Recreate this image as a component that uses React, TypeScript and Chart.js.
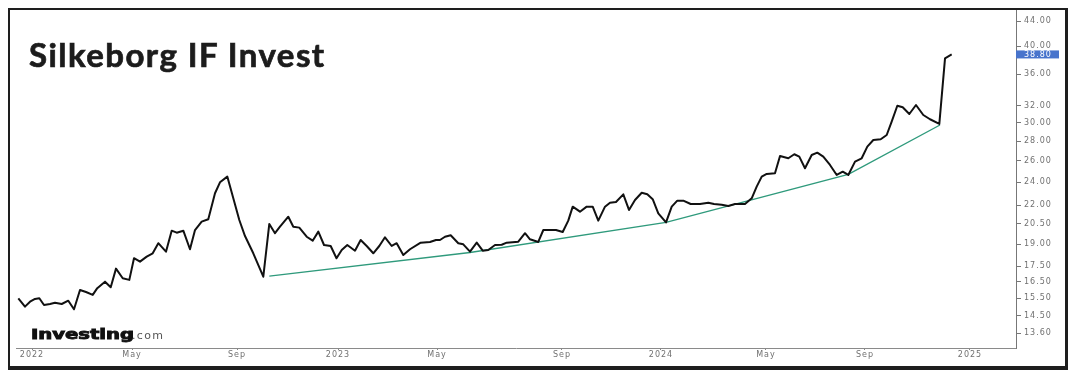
import React, { useEffect, useRef } from "react";
import { Chart, registerables } from "chart.js";

Chart.register(...registerables);

// Weekly closes, x in weeks from the start of 2022 (as laid out on the source chart)
const priceWeeks = [
  -2.28, -1.17, -0.33, 0.5, 1.22, 2.0, 3.0, 3.83, 4.95, 6.05,
  7.0, 8.0, 9.0, 10.12, 10.88, 12.17, 13.12, 14.0, 15.12, 16.22,
  17.0, 18.0, 19.12, 20.12, 21.05, 22.33, 23.28, 24.12, 25.22, 26.33,
  27.17, 28.28, 29.38, 30.5, 31.33, 32.55, 33.55, 34.55, 35.5, 36.88,
  38.55, 39.55, 40.5, 41.33, 42.72, 43.55, 44.55, 45.78, 46.78, 47.72,
  48.67, 49.78, 50.75, 51.62, 52.55, 53.83, 54.78, 55.78, 56.88, 57.88,
  58.83, 59.95, 60.78, 61.88, 63.0, 64.78, 66.33, 67.33, 68.0, 68.83,
  69.78, 71.05, 71.88, 73.0, 74.12, 75.12, 76.05, 77.17, 78.28, 79.12,
  81.05, 82.17, 83.0, 84.38, 85.22, 87.33, 88.45, 89.38, 90.12, 91.33,
  92.45, 93.45, 94.38, 95.5, 96.33, 97.33, 98.55, 99.5, 100.5, 101.62,
  102.55, 103.45, 104.38, 105.67, 106.62, 107.55, 108.55, 109.78, 111.33, 112.72,
  113.67, 114.95, 116.05, 117.17, 118.83, 119.95, 120.78, 121.62, 122.45, 123.83,
  124.67, 126.05, 127.05, 127.88, 128.83, 129.95, 130.88, 131.88, 133.0, 134.12,
  135.12, 136.05, 137.17, 138.28, 139.22, 140.22, 141.45, 142.45, 143.28, 144.22,
  145.12, 146.22, 147.33, 148.55, 149.67, 151.22, 152.17, 153.28,
];

const priceValues = [
  15.5, 15.02, 15.3, 15.46, 15.5, 15.11, 15.17, 15.24, 15.17, 15.36,
  14.87, 15.99, 15.87, 15.7, 16.1, 16.5, 16.16, 17.33, 16.71, 16.61,
  18.02, 17.79, 18.13, 18.36, 19.07, 18.47, 19.99, 19.84, 19.99, 18.64,
  20.04, 20.68, 20.87, 23.01, 23.98, 24.5, 22.58, 20.81, 19.59, 18.36,
  16.81, 20.5, 19.8, 20.29, 21.07, 20.29, 20.22, 19.54, 19.25, 19.92,
  18.94, 18.87, 18.02, 18.59, 18.94, 18.54, 19.3, 18.87, 18.36, 18.87,
  19.5, 18.87, 19.07, 18.24, 18.64, 19.11, 19.16, 19.3, 19.3, 19.54,
  19.65, 19.07, 18.99, 18.47, 19.11, 18.54, 18.59, 18.94, 18.96, 19.11,
  19.18, 19.8, 19.35, 19.16, 20.04, 20.04, 19.89, 20.76, 21.88, 21.47,
  21.88, 21.88, 20.76, 21.88, 22.21, 22.27, 22.92, 21.61, 22.44, 23.06,
  22.92, 22.5, 21.34, 20.62, 21.88, 22.38, 22.38, 22.1, 22.1, 22.21,
  22.1, 22.04, 21.94, 22.1, 22.1, 22.58, 23.59, 24.5, 24.75, 24.81,
  26.48, 26.25, 26.65, 26.41, 25.28, 26.58, 26.81, 26.41, 25.6, 24.65,
  24.96, 24.65, 25.92, 26.25, 27.42, 28.12, 28.2, 28.65, 30.12, 31.99,
  31.8, 31.01, 32.08, 30.89, 30.4, 29.87, 38.24, 38.8,
];

// Green support trend line
const trendWeeks = [39.55, 73.0, 105.67, 136.05, 151.33];
const trendValues = [16.85, 18.41, 20.62, 24.7, 29.75];

// Axis ticks
const xTickWeeks = [0, 16.67, 34.17, 51, 67.5, 88.33, 104.83, 122.33, 138.83, 156.33];
const xTickLabels = ["2022", "May", "Sep", "2023", "May", "Sep", "2024", "May", "Sep", "2025"];
const yTickValues = [13.6, 14.5, 15.5, 16.5, 17.5, 19, 20.5, 22, 24, 26, 28, 30, 32, 36, 40, 44];
const lastPrice = 38.8;

const X_MIN = -2.667;
const X_MAX = 164;
const Y_MIN = 12.855;
const Y_MAX = 45.86;

const TICK_FONT = "DejaVu Sans";

const spacingPlugin = {
  id: "letterSpacing",
  beforeLayout(chart: any) {
    (chart.ctx as any).letterSpacing = "1px";
  },
  beforeDraw(chart: any) {
    (chart.ctx as any).letterSpacing = "1px";
  },
};

const lastPricePlugin = {
  id: "lastPrice",
  afterDraw(chart: any) {
    const ctx = chart.ctx;
    const y = chart.scales.y.getPixelForValue(lastPrice);
    const x = chart.chartArea.right;
    ctx.save();
    (ctx as any).letterSpacing = "1px";
    ctx.fillStyle = "#4874cc";
    ctx.fillRect(x, y - 4, 43, 8);
    ctx.fillStyle = "#ffffff";
    ctx.font = `8px '${TICK_FONT}'`;
    ctx.textBaseline = "middle";
    ctx.textAlign = "left";
    ctx.fillText(lastPrice.toFixed(2), x + 8, y + 0.5);
    ctx.restore();
  },
};

export default function App() {
  const canvasRef = useRef<HTMLCanvasElement | null>(null);

  useEffect(() => {
    if (!canvasRef.current) return;
    const chart = new Chart(canvasRef.current, {
      type: "line",
      data: {
        datasets: [
          {
            label: "Silkeborg IF Invest",
            data: priceWeeks.map((w, i) => ({ x: w, y: priceValues[i] })),
            borderColor: "#111111",
            borderWidth: 2,
            pointRadius: 0,
            tension: 0,
            borderJoinStyle: "round",
          },
          {
            label: "Trend",
            data: trendWeeks.map((w, i) => ({ x: w, y: trendValues[i] })),
            borderColor: "#2f9a7c",
            borderWidth: 1.4,
            pointRadius: 0,
            tension: 0,
          },
        ],
      },
      options: {
        animation: false,
        responsive: true,
        maintainAspectRatio: false,
        layout: { padding: { left: 6, right: 0, top: 0, bottom: 0 } },
        plugins: {
          legend: { display: false },
          tooltip: { enabled: false },
          title: { display: false },
        },
        scales: {
          x: {
            type: "linear",
            min: X_MIN,
            max: X_MAX,
            afterBuildTicks: (scale: any) => {
              scale.ticks = xTickWeeks.map((v) => ({ value: v }));
            },
            afterFit: (scale: any) => {
              scale.height = 18;
              scale.paddingLeft = 0;
              scale.paddingRight = 0;
            },
            ticks: {
              autoSkip: false,
              maxRotation: 0,
              padding: 0,
              color: "#707070",
              font: { family: TICK_FONT, size: 8 },
              callback: (_v: any, i: number) => xTickLabels[i],
            },
            grid: { drawOnChartArea: false, drawTicks: true, tickLength: 2, color: "#8a8a8a" },
            border: { display: true, color: "#8a8a8a", width: 1 },
          },
          y: {
            type: "logarithmic",
            position: "right",
            min: Y_MIN,
            max: Y_MAX,
            afterBuildTicks: (scale: any) => {
              scale.ticks = yTickValues.map((v) => ({ value: v }));
            },
            afterFit: (scale: any) => {
              scale.width = 49;
              scale.paddingTop = 0;
              scale.paddingBottom = 0;
            },
            ticks: {
              autoSkip: false,
              padding: 3,
              color: "#707070",
              font: { family: TICK_FONT, size: 8 },
              callback: (v: any) => Number(v).toFixed(2),
            },
            grid: { drawOnChartArea: false, drawTicks: true, tickLength: 5, color: "#777777" },
            border: { display: true, color: "#777777", width: 1 },
          },
        },
      },
      plugins: [spacingPlugin, lastPricePlugin],
    } as any);
    return () => chart.destroy();
  }, []);

  return (
    <div
      style={{
        position: "relative",
        width: 1060,
        height: 362,
        boxSizing: "border-box",
        borderLeft: "2px solid #1e1e1e",
        borderTop: "2px solid #1e1e1e",
        borderRight: "3px solid #1e1e1e",
        borderBottom: "4px solid #1e1e1e",
        background: "#ffffff",
      }}
    >
      <div style={{ position: "absolute", left: 0, top: 0, width: 1055, height: 356 }}>
        <canvas ref={canvasRef} />
      </div>
      <div
        style={{
          position: "absolute",
          left: 19,
          top: 24,
          fontFamily: "Lato, 'Open Sans', sans-serif",
          fontWeight: 700,
          fontSize: 33,
          letterSpacing: "1.45px",
          color: "#1c1c1c",
          WebkitTextStroke: "0.7px #1c1c1c",
          whiteSpace: "nowrap",
          pointerEvents: "none",
        }}
      >
        Silkeborg IF Invest
      </div>
      <div
        style={{
          position: "absolute",
          left: 21,
          top: 317,
          height: 14,
          lineHeight: "14px",
          whiteSpace: "nowrap",
          pointerEvents: "none",
        }}
      >
        <span
          style={{
            display: "inline-block",
            fontFamily: "'DejaVu Sans', sans-serif",
            fontWeight: 700,
            fontSize: 14,
            color: "#111111",
            WebkitTextStroke: "0.9px #111111",
            transform: "scaleX(1.4)",
            transformOrigin: "left center",
            width: 101,
          }}
        >
          Investing
        </span>
        <span
          style={{
            fontFamily: "'DejaVu Sans', sans-serif",
            fontSize: 11,
            letterSpacing: "1.3px",
            color: "#555555",
          }}
        >
          .com
        </span>
      </div>
    </div>
  );
}
